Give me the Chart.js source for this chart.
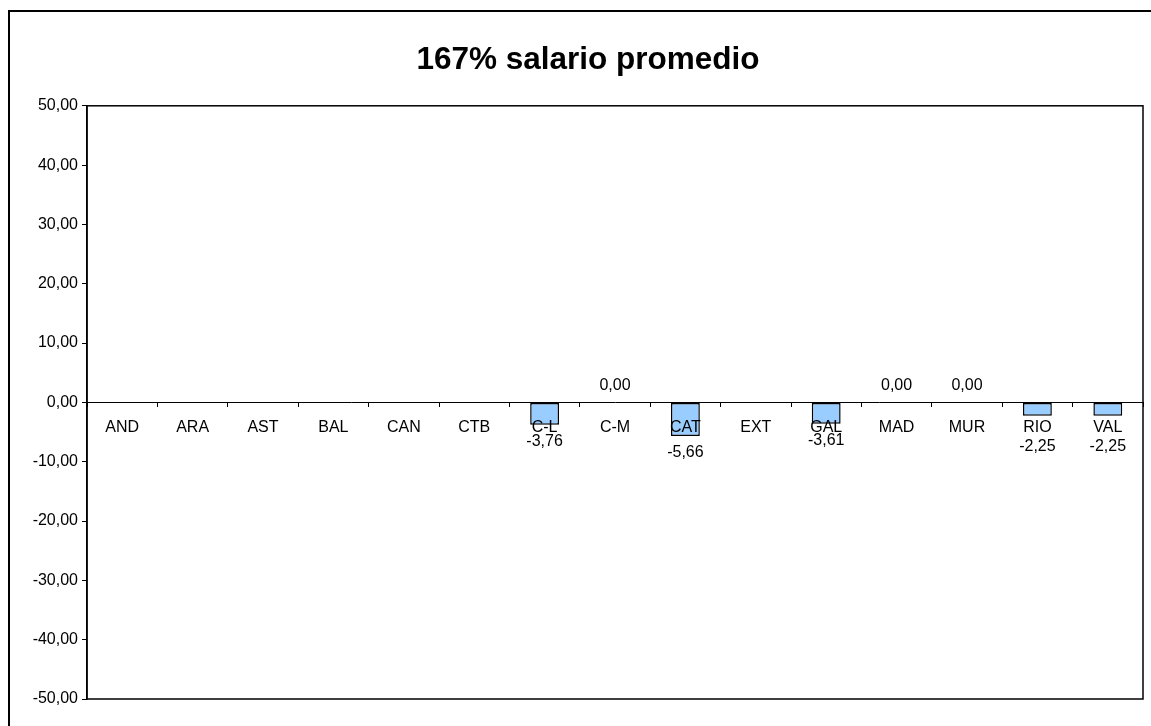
<!DOCTYPE html>
<html>
<head>
<meta charset="utf-8">
<script src="https://cdn.jsdelivr.net/npm/chart.js@4/dist/chart.umd.min.js"></script>
<style>
  html, body { margin: 0; padding: 0; background: #fff; overflow: hidden; }
  #wrap { width: 1151px; height: 726px; position: relative; }
</style>
</head>
<body>
<div id="wrap"><canvas id="myChart" width="1151" height="726"></canvas></div>
<script>
const titleText = '167% salario promedio';
const categories = ['AND', 'ARA', 'AST', 'BAL', 'CAN', 'CTB', 'C-L', 'C-M', 'CAT', 'EXT', 'GAL', 'MAD', 'MUR', 'RIO', 'VAL'];
const values = [null, null, null, null, null, null, -3.76, 0.00, -5.66, null, -3.61, 0.00, 0.00, -2.25, -2.25];
const yMin = -50;
const yMax = 50;
const yStep = 10;

function fmt(v) {
    return v.toFixed(2).replace('.', ',');
}

// outer frame of the chart object (right and bottom edges fall outside the window)
const framePlugin = {
    id: 'frame',
    beforeDraw(chart) {
        const c = chart.ctx;
        c.save();
        c.fillStyle = '#fff';
        c.fillRect(0, 0, chart.width, chart.height);
        c.strokeStyle = '#000';
        c.lineWidth = 2;
        c.strokeRect(9, 11, chart.width + 20, chart.height + 20);
        c.restore();
    },
    afterDraw(chart) {
        const a = chart.chartArea;
        const c = chart.ctx;
        c.save();
        c.strokeStyle = '#000';
        c.lineWidth = 1.5;
        c.strokeRect(a.left, a.top, a.right - a.left, a.bottom - a.top);
        c.restore();
    }
};

// value labels under / over the bars
const labelPlugin = {
    id: 'valueLabels',
    afterDraw(chart) {
        const c = chart.ctx;
        const meta = chart.getDatasetMeta(0);
        const zero = chart.scales.y.getPixelForValue(0);
        c.save();
        c.font = '16px Arial, "Liberation Sans", sans-serif';
        c.fillStyle = '#000';
        c.textAlign = 'center';
        c.textBaseline = 'middle';
        meta.data.forEach((bar, i) => {
            const v = values[i];
            if (v === null) return;
            let y;
            if (v >= 0) {
                y = bar.y - 17;
            } else {
                y = bar.y + 17;
                if (y < zero + 35) y = zero + 44;
            }
            c.fillText(fmt(v), bar.x, y);
        });
        c.restore();
    }
};

const ctx = document.getElementById('myChart').getContext('2d');
window.myChart = new Chart(ctx, {
    type: 'bar',
    data: {
        labels: categories,
        datasets: [{
            label: titleText,
            data: values,
            backgroundColor: '#99CCFF',
            borderColor: '#000',
            borderWidth: 1.5,
            borderSkipped: false,
            barPercentage: 0.41,
            categoryPercentage: 1
        }]
    },
    options: {
        responsive: false,
        animation: false,
        layout: {
            padding: { left: 33, right: 8, top: 0, bottom: 27 }
        },
        plugins: {
            legend: { display: false },
            tooltip: { enabled: false },
            title: {
                display: true,
                text: titleText,
                color: '#000',
                font: { family: 'Arial, "Liberation Sans", sans-serif', size: 31.5, weight: 'bold' },
                padding: { top: 41, bottom: 27 }
            }
        },
        scales: {
            x: {
                position: { y: 0 },
                grid: {
                    display: true,
                    drawOnChartArea: false,
                    drawTicks: true,
                    tickLength: 4,
                    offset: true,
                    color: '#000',
                    z: 1
                },
                border: { display: true, color: '#000', width: 1, z: 1 },
                ticks: {
                    color: '#000',
                    padding: 12,
                    maxRotation: 0,
                    autoSkip: false,
                    z: 1,
                    font: { family: 'Arial, "Liberation Sans", sans-serif', size: 16 }
                }
            },
            y: {
                min: yMin,
                max: yMax,
                afterFit(scale) { scale.width = 54; },
                grid: {
                    display: true,
                    drawOnChartArea: false,
                    drawTicks: true,
                    tickLength: 5,
                    color: '#000'
                },
                border: { display: true, color: '#000', width: 1.5 },
                ticks: {
                    stepSize: yStep,
                    color: '#000',
                    padding: 4,
                    font: { family: 'Arial, "Liberation Sans", sans-serif', size: 16 },
                    callback: (v) => fmt(v)
                }
            }
        }
    },
    plugins: [framePlugin, labelPlugin]
});
</script>
</body>
</html>
